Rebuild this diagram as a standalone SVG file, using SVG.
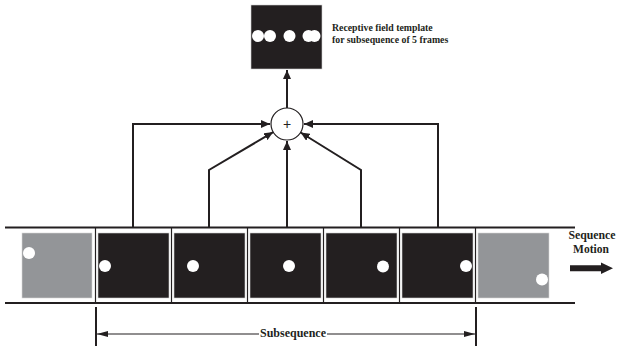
<svg xmlns="http://www.w3.org/2000/svg" width="618" height="348" viewBox="0 0 618 348">
<style>
.frame-dark{fill:#231f20;stroke:#d0d0d0;stroke-width:0.6}
.frame-gray{fill:#939598;stroke:#d8d8d8;stroke-width:0.6}
.dot{fill:#ffffff}
.conn{fill:none;stroke:#231f20;stroke-width:2}
.strip{stroke:#231f20;stroke-width:2.2}
.sep{stroke:#231f20;stroke-width:1.2}
.lbl{font-family:"Liberation Serif","Times New Roman",serif;font-weight:bold;fill:#231f20}
</style>
<defs>
<marker id="ah" markerUnits="userSpaceOnUse" markerWidth="10" markerHeight="8" refX="9" refY="4" orient="auto">
<path d="M0,0 L9,4 L0,8 Z" fill="#231f20"/>
</marker>
<marker id="ahs" markerUnits="userSpaceOnUse" markerWidth="12" markerHeight="8" refX="11" refY="4" orient="auto">
<path d="M0,1 L11,4 L0,7 Z" fill="#231f20"/>
</marker>
</defs>
<rect width="618" height="348" fill="#ffffff"/>

<g id="template">
<rect x="251" y="5" width="71" height="64" class="frame-dark"/>
<circle class="dot" cx="258" cy="36" r="6"/>
<circle class="dot" cx="270" cy="36" r="6"/>
<circle class="dot" cx="289.5" cy="36" r="6"/>
<circle class="dot" cx="308.5" cy="36" r="6"/>
<circle class="dot" cx="314.5" cy="36" r="6"/>
<text class="lbl" x="332" y="30.5" font-size="9.8">Receptive field template</text>
<text class="lbl" x="332" y="42.5" font-size="9.8">for subsequence of 5 frames</text>
</g>

<g id="sum">
<circle cx="287" cy="124" r="16" fill="#ffffff" stroke="#231f20" stroke-width="1.2"/>
<text x="287" y="129" text-anchor="middle" font-family="Liberation Sans, Arial, sans-serif" font-size="14" fill="#231f20">+</text>
</g>

<g id="strip">
<line class="strip" x1="5" y1="227.5" x2="575" y2="227.5"/>
<line class="strip" x1="5" y1="303" x2="575" y2="303"/>
<line class="sep" x1="95.5" y1="227.5" x2="95.5" y2="303"/>
<line class="sep" x1="171.5" y1="227.5" x2="171.5" y2="303"/>
<line class="sep" x1="247.5" y1="227.5" x2="247.5" y2="303"/>
<line class="sep" x1="323.5" y1="227.5" x2="323.5" y2="303"/>
<line class="sep" x1="399.5" y1="227.5" x2="399.5" y2="303"/>
<line class="sep" x1="475.5" y1="227.5" x2="475.5" y2="303"/>
</g>

<g id="frame1"><rect x="22" y="233" width="70" height="65" class="frame-gray"/><circle class="dot" cx="29" cy="253" r="6"/></g>
<g id="frame2"><rect x="98" y="233" width="71" height="65" class="frame-dark"/><circle class="dot" cx="105" cy="266" r="6"/></g>
<g id="frame3"><rect x="174" y="233" width="71" height="65" class="frame-dark"/><circle class="dot" cx="193" cy="266" r="6"/></g>
<g id="frame4"><rect x="250" y="233" width="71" height="65" class="frame-dark"/><circle class="dot" cx="289" cy="266" r="6"/></g>
<g id="frame5"><rect x="326" y="233" width="71" height="65" class="frame-dark"/><circle class="dot" cx="383" cy="266.5" r="6"/></g>
<g id="frame6"><rect x="402" y="233" width="71" height="65" class="frame-dark"/><circle class="dot" cx="466" cy="266" r="6"/></g>
<g id="frame7"><rect x="478" y="233" width="71" height="65" class="frame-gray"/><circle class="dot" cx="542" cy="279.5" r="6"/></g>

<g id="motion">
<text class="lbl" x="592" y="239" font-size="11.8" text-anchor="middle">Sequence</text>
<text class="lbl" x="591" y="252.5" font-size="11.5" text-anchor="middle">Motion</text>
<path d="M570,265.3 L601,265.3 L601,262.5 L613,268.3 L601,274 L601,271.2 L570,271.2 Z" fill="#231f20"/>
</g>

<g id="connectors">
<line class="conn" x1="287" y1="108" x2="287" y2="70" marker-end="url(#ah)"/>
<polyline class="conn" points="133,227 133,124 270,124" marker-end="url(#ah)"/>
<polyline class="conn" points="438,227 438,124 304,124" marker-end="url(#ah)"/>
<polyline class="conn" points="209,227 209,170 273.2,132.1" marker-end="url(#ah)"/>
<polyline class="conn" points="361,227 361,170 300.6,132.5" marker-end="url(#ah)"/>
<line class="conn" x1="287" y1="227" x2="287" y2="141" marker-end="url(#ah)"/>
</g>

<g id="subsequence">
<line x1="96" y1="307" x2="96" y2="346" stroke="#231f20" stroke-width="2"/>
<line x1="476" y1="307" x2="476" y2="346" stroke="#231f20" stroke-width="2"/>
<line x1="259" y1="334" x2="97" y2="334" stroke="#231f20" stroke-width="1.2" marker-end="url(#ahs)"/>
<line x1="327" y1="334" x2="475" y2="334" stroke="#231f20" stroke-width="1.2" marker-end="url(#ahs)"/>
<text class="lbl" x="293" y="337" font-size="12" text-anchor="middle">Subsequence</text>
</g>
</svg>
